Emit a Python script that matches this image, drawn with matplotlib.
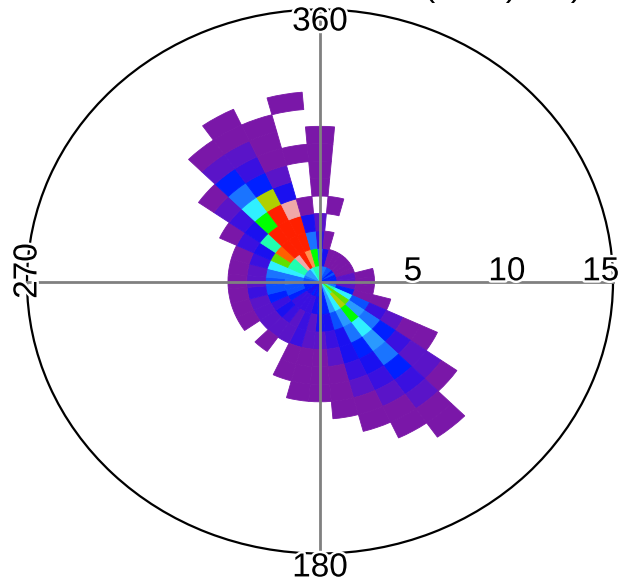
import matplotlib
matplotlib.use("Agg")
import matplotlib.pyplot as plt
import matplotlib.patheffects as pe
import numpy as np
from matplotlib.colors import ListedColormap, BoundaryNorm

# one colour per count level, 1 = lowest
level_colors = ["#7a17a8", "#5a14c8", "#3a10e0", "#1a10f0", "#0020ff", "#0a50ff", "#1a74ff", "#2a9aff",
                "#30f0ff", "#20ffb0", "#00ff00", "#60e000", "#b0d000", "#ff6000", "#ff2000", "#ff9050", "#f0a8a8"]

# levels per direction bin, innermost speed bin first (0 = empty)
sectors = {
    0: [9, 7, 3, 2, 0, 1, 1, 1, 1],
    10: [7, 4, 1, 0, 1],
    20: [7, 1],
    30: [6, 1],
    40: [6, 1],
    50: [5, 1],
    60: [6, 1],
    70: [5, 1],
    80: [5, 2, 1],
    90: [5, 2, 1],
    100: [6, 2, 1],
    110: [7, 5, 1, 1],
    120: [10, 9, 6, 3, 2, 1, 1],
    130: [12, 12, 8, 7, 5, 3, 2, 2, 1],
    140: [10, 13, 11, 9, 8, 7, 5, 3, 2, 1, 1],
    150: [9, 9, 8, 7, 5, 4, 3, 2, 1, 1],
    160: [8, 8, 6, 4, 4, 3, 2, 1, 1],
    170: [5, 5, 4, 3, 2, 1, 1, 1],
    180: [5, 5, 4, 2, 1, 1, 1],
    190: [5, 4, 2, 2, 1, 1, 1],
    200: [4, 3, 3, 3, 1, 1],
    210: [5, 3, 2, 2],
    220: [4, 3, 3, 2, 1],
    230: [4, 3, 4, 2],
    240: [5, 5, 3, 2, 1],
    250: [5, 6, 5, 2, 1],
    260: [5, 6, 6, 3, 1],
    270: [6, 7, 6, 2, 1],
    280: [6, 7, 7, 2, 1],
    290: [7, 9, 9, 3, 1],
    300: [8, 10, 12, 4, 3, 1],
    310: [8, 10, 14, 10, 4, 3, 2, 1],
    320: [8, 17, 15, 15, 11, 9, 7, 5, 2, 1],
    330: [9, 15, 15, 15, 15, 13, 5, 3, 2, 1, 1],
    340: [10, 16, 15, 15, 17, 4, 2, 1, 1, 1],
    350: [10, 11, 7, 4, 1, 0, 0, 1, 0, 0, 1],
}
radial_ticks = [5, 10, 15]
radial_labels = ["5", "10", "15"]
angle_ticks = [0, 180, 270]
angle_labels = ["360", "180", "270"]
title_text = "(km/s) km)"  # only the bottom edge shows, the rest is off the canvas

rmax = 15.6
font = "Liberation Sans"
halo = [pe.withStroke(linewidth=3.5, foreground="white")]

cmap = ListedColormap(level_colors)
norm = BoundaryNorm(np.arange(0.5, len(level_colors) + 1), cmap.N)

fig = plt.figure(figsize=(6.32, 5.82), dpi=100)
ax = fig.add_axes([27 / 632, 1 - 553.5 / 582, 586 / 632, 544 / 582], projection="polar")
ax.set_aspect("auto")
ax.set_theta_zero_location("N")
ax.set_theta_direction(-1)

# rings drawn a touch short, the stroke on each cell hides the seams
for angle, levels in sectors.items():
    for ring, level in enumerate(levels):
        if level == 0:
            continue
        c = cmap(norm(level))
        bottom = max(ring - 0.1, 0)
        ax.bar(np.deg2rad(angle), ring + 0.9 - bottom, width=np.deg2rad(10), bottom=bottom, color=c, edgecolor=c,
               linewidth=0.6, zorder=2)

for a in [0, 90, 180, 270]:
    ax.plot([np.deg2rad(a)] * 2, [0, rmax], color="#808080", lw=2, zorder=3, clip_on=False)

ax.set_rlim(0, rmax)
ax.set_xticks([])
ax.set_yticks([])
ax.grid(False)
ax.spines["polar"].set_linewidth(1.6)
ax.spines["polar"].set_color("black")

for r, s in zip(radial_ticks, radial_labels):
    ax.annotate(s, xy=(np.pi / 2, r), xytext=(-0.7, 7), textcoords="offset points", ha="center", va="center",
                fontsize=24, family=font, path_effects=halo, zorder=4, annotation_clip=False)

# angle labels sit on the frame, nudged by hand
offsets = {"360": (0, -9), "180": (0, -10.4), "270": (0.7, 7.5)}
for a, s in zip(angle_ticks, angle_labels):
    rot = 90 if s == "270" else 0
    ax.annotate(s, xy=(np.deg2rad(a), rmax), xytext=offsets[s], textcoords="offset points", ha="center", va="center",
                rotation=rot, fontsize=24, family=font, path_effects=halo, zorder=4, annotation_clip=False)

fig.text(424 / 632, 1 + 4 / 582, title_text, ha="left", va="baseline", fontsize=24, family=font)

fig.savefig("out.png", dpi=100)
